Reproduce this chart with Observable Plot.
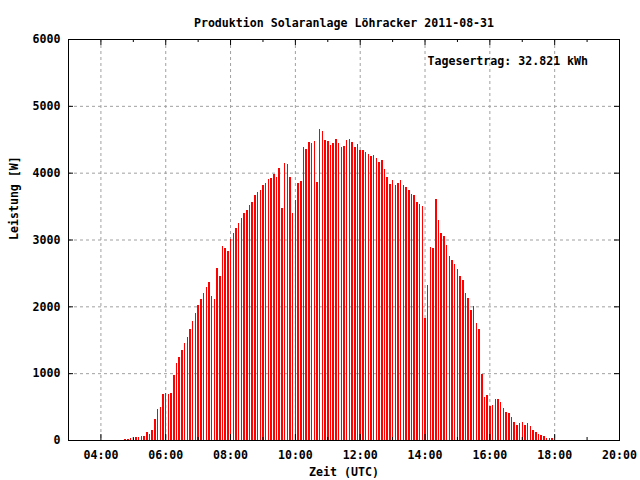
<!DOCTYPE html>
<html><head><meta charset="utf-8">
<script src="https://cdn.jsdelivr.net/npm/d3@7"></script>
<script src="https://cdn.jsdelivr.net/npm/@observablehq/plot@0.6"></script>
<style>body{margin:0;background:#fff}</style>
</head><body><div id="chart"></div>
<script>
const title = "Produktion Solaranlage Löhracker 2011-08-31";
const xLabel = "Zeit (UTC)";
const yLabel = "Leistung [W]";
const note = "Tagesertrag: 32.821 kWh";
const day = "2011-08-31";
const xDomain = ["03:00", "20:00"];
const startTime = "04:45";
const stepMinutes = 5;
// Leistung in W, alle 5 Minuten ab 04:45 UTC
const power = [
  15, 15, 30, 30, 45, 45, 60, 60, 120, 90, 150, 315, 465, 495, 690,
  705, 690, 705, 975, 1150, 1245, 1350, 1450, 1540, 1660, 1780, 1900,
  2020, 2110, 2200, 2290, 2365, 2156, 2111, 2575, 2455, 2904, 2874, 2829,
  3009, 3099, 3174, 3248, 3323, 3398, 3443, 3518, 3563, 3668, 3713, 3743,
  3817, 3847, 3907, 3922, 3982, 3937, 4072, 3473, 4147, 4132, 3937, 3398,
  3593,
  3847, 3877, 4386, 4356, 4461, 4446, 4476, 3862, 4656, 4626, 4491, 4476,
  4416, 4446, 4506, 4446, 4386, 4401, 4491, 4506, 4461, 4386, 4431, 4341,
  4341, 4311, 4281, 4251, 4266, 4221, 4162, 4192, 4057,
  3937, 3832, 3892, 3817, 3847, 3892, 3817, 3787, 3743, 3683, 3668, 3563,
  3533, 3503, 1826, 2320, 2889, 2874, 3608, 3293, 3099, 3054, 2919, 2755,
  2695, 2635, 2560, 2455, 2395, 2201, 2126, 1946, 2006,
  1751, 1662, 988, 644, 674, 509, 524, 614, 614, 569, 479, 419, 404, 344,
  269, 225, 254, 269, 225, 254, 210, 150, 120, 90, 75, 60, 30, 30, 30
];
const xTicks = ["04:00","06:00","08:00","10:00","12:00","14:00","16:00","18:00","20:00"];
const xMinorTicks = ["03:00","05:00","07:00","09:00","11:00","13:00","15:00","17:00","19:00"];
const xGrid = ["04:00","06:00","08:00","10:00","12:00","14:00","16:00","18:00"];
const yTicks = [0, 1000, 2000, 3000, 4000, 5000, 6000];
const yGrid = [1000, 2000, 3000, 4000, 5000];

const toDate = s => new Date(`${day}T${s}:00Z`);
const t0 = toDate(startTime);
const data = power.map((w, i) => ({t: d3.utcMinute.offset(t0, i * stepMinutes), w}));

const gridStyle = {stroke: "#a0a0a0", strokeDasharray: "3,3", strokeWidth: 1};
const fw = 551, fh = 401;

const chart = Plot.plot({
  width: 640,
  height: 480,
  marginLeft: 68,
  marginRight: 21,
  marginTop: 39,
  marginBottom: 40,
  style: {fontFamily: "'DejaVu Sans Mono', monospace", fontSize: "11.6px", fontWeight: "bold", background: "#fff", color: "#000"},
  x: {type: "utc", domain: xDomain.map(toDate)},
  y: {domain: [0, 6000]},
  marks: [
    Plot.ruleY(yGrid, {y: d => d, ...gridStyle}),
    Plot.ruleX(xGrid.map(toDate), {x: d => d, ...gridStyle}),
    Plot.ruleX(data, {x: "t", y1: 0, y2: "w", stroke: "red", strokeWidth: 1.5, shapeRendering: "crispEdges"}),
    Plot.frame({stroke: "#000"}),
    Plot.tickX(xTicks.map(toDate), {x: d => d, insetTop: fh - 6, stroke: "#000"}),
    Plot.tickX(xTicks.map(toDate), {x: d => d, insetBottom: fh - 6, stroke: "#000"}),
    Plot.tickX(xMinorTicks.map(toDate), {x: d => d, insetTop: fh - 3, stroke: "#000"}),
    Plot.tickX(xMinorTicks.map(toDate), {x: d => d, insetBottom: fh - 3, stroke: "#000"}),
    Plot.tickY(yTicks, {y: d => d, insetRight: fw - 5, stroke: "#000"}),
    Plot.tickY(yTicks, {y: d => d, insetLeft: fw - 5, stroke: "#000"}),
    Plot.axisX(xTicks.map(toDate), {x: d => d, tickSize: 0, tickPadding: 10, tickFormat: d3.utcFormat("%H:%M"), label: null}),
    Plot.axisY(yTicks, {y: d => d, tickSize: 0, tickPadding: 8, tickFormat: d => String(d), label: null}),
    Plot.text([title], {text: d => d, frameAnchor: "top", dy: -21}),
    Plot.text([xLabel], {text: d => d, frameAnchor: "bottom", dy: 35}),
    Plot.text([yLabel], {text: d => d, frameAnchor: "left", dx: -54, rotate: -90}),
    Plot.text([note], {text: d => d, frameAnchor: "top-left", textAnchor: "start", dx: 359, dy: 17})
  ]
});
document.getElementById("chart").appendChild(chart);
</script>
</body></html>
